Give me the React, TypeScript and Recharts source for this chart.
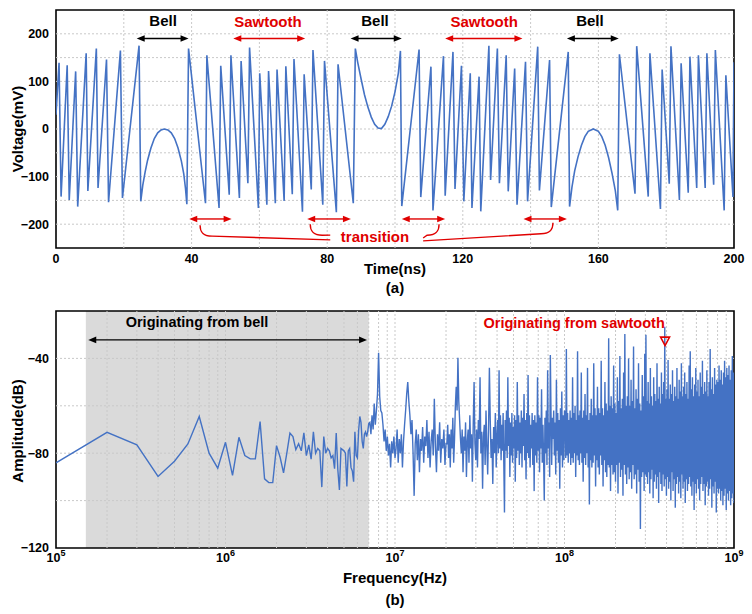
import React from 'react';
import {
  LineChart,
  Line,
  XAxis,
  YAxis,
  ReferenceLine,
  ReferenceArea,
  ReferenceDot,
} from 'recharts';

const BLUE = '#4472C4';
const RED = '#E00000';
const GRID = '#c9c9c9';
const FONT = '"Liberation Sans", Arial, Helvetica, sans-serif';

// ---- (a) time domain, [ns, mV] ----
const sawRise1 = [[0, 30], [0.9, 139], [1.5, -142], [3.3, 134], [3.9, -149], [5.8, 121], [6.4, -163], [8.9, 159], [9.4, -130], [11.9, 169], [12.4, -124], [14.9, 146], [15.5, -154], [19.0, 165], [19.6, -145], [24.5, 175], [25.0, -152]];
const bell1 = [[25.6, -118], [26.3, -90], [27, -66], [28, -40], [29, -20], [30, -8], [31, -2], [31.9, 0], [33, -2], [34, -8], [35, -20], [36, -40], [37, -68], [37.7, -95], [38.2, -125], [38.6, -158]];
const sawFall1 = [[39.1, 169], [44.1, -156], [44.5, 155], [48.1, -166], [48.6, 133], [51.1, -138], [51.6, 155], [54.1, -145], [54.6, 143], [56.6, -114], [57.1, 171], [59.7, -166], [60.1, 117], [62.2, -159], [62.7, 122], [64.7, -156], [65.2, 125], [67.3, -151], [67.8, 132], [69.7, -137], [70.2, 147], [72.7, -174], [73.2, 115], [75.3, -127], [75.8, 166], [78.7, -159], [79.2, 143], [82.7, -175], [83.2, 136], [87.7, -156], [88.3, 169]];
const bellDip = [[89, 140], [90, 105], [91, 72], [92, 46], [93, 25], [94, 10], [95, 2], [96, 1], [97, 10], [98, 26], [99, 48], [100, 78], [101, 118], [101.6, 164]];
const sawRise2 = [[102.0, -162], [107.1, 167], [107.6, -143], [110.6, 131], [111.2, -171], [114.3, 153], [114.8, -140], [117.1, 162], [117.7, -126], [119.6, 133], [120.3, -152], [122.2, 117], [122.7, -166], [124.8, 110], [125.3, -173], [127.7, 175], [128.2, -107], [130.2, 169], [130.8, -114], [132.8, 155], [133.4, -131], [135.3, 127], [136.0, -159], [138.5, 141], [139.1, -152], [142.1, 173], [142.6, -129], [145.6, 145], [146.1, -164], [151.1, 162]];
const bell2 = [[151.5, -163], [152.2, -122], [153, -88], [154, -58], [155, -34], [156, -16], [157, -5], [158.5, 0], [160, -5], [161, -16], [162, -34], [163, -60], [164, -92], [165, -130], [165.7, -171]];
const sawFall2 = [[166.2, 157], [170.8, -136], [171.3, 174], [174.7, -142], [175.2, 159], [178.3, -168], [178.8, 125], [180.9, -115], [181.4, 174], [183.9, -149], [184.4, 138], [186.5, -134], [187.0, 152], [189.0, -124], [189.5, 155], [191.5, -124], [192.0, 159], [194.0, -117], [194.5, 166], [197.1, -171], [197.6, 113], [199.7, -143], [200, 140]];

const timeTicks = [0, 40, 80, 120, 160, 200];
const voltTicks = [-200, -100, 0, 100, 200];
const timeGrid = [20, 40, 60, 80, 100, 120, 140, 160, 180];
const voltGrid = [-200, -150, -100, -50, 0, 50, 100, 150, 200];

// phase labels [text, ns, mV, colour] and spans [from ns, to ns, colour]
const phaseLabels = [['Bell', 31.6, 227, 'k'], ['Sawtooth', 62.5, 225, 'r'], ['Bell', 94.1, 227, 'k'], ['Sawtooth', 126.3, 225, 'r'], ['Bell', 157.5, 227, 'k']];
const phaseSpans = [[23.8, 39.1, 'k'], [52.3, 73.5, 'r'], [86.9, 102.0, 'k'], [114.8, 137.6, 'r'], [150.7, 166.0, 'k']];
const transitionSpans = [[39.3, 51.8], [74.1, 87.0], [102.0, 114.8], [137.9, 150.7]];
const transitionHooks = [[42.5, -202, 80.9, -233], [75.0, -200, 80.9, -223], [113.0, -200, 108.3, -229], [146.6, -197, 108.3, -235]];

// ---- (b) spectrum ----
// 100 kHz bins, 0.1 .. 7 MHz (shaded "bell" region)
const bellBandDb = [-84.1, -71.2, -76.5, -89.8, -83.4, -76.1, -64.5, -80, -86.3, -75.4, -89.4, -73.3, -81, -82.4, -82.4, -66.7, -90.8, -92.4, -92.4, -76.8, -81.7, -88.3, -80, -71.5, -73, -78.5, -76, -79, -71.4, -81, -76.5, -82.5, -71, -80, -78, -79, -94.3, -73, -80, -78, -79, -82, -81, -86.5, -71.5, -87, -95.5, -78, -78.5, -79, -80, -94, -79, -78, -86, -87.5, -92, -71, -81, -82, -70.5, -64.5, -67, -75, -78, -72, -71, -73, -71, -67.5];

// denser part, one list per span between consecutive edges
const segEdgesHz = [7e6, 1e7, 2e7, 4e7, 1e8, 3e8, 1e9];
const dbA = [-67, -72, -64, -70, -59, -68, -62, -55, -37.6, -56, -62, -63, -68, -75, -70, -79, -73, -81, -76, -86, -75, -80, -73, -82];
const dbB = [-78, -70, -84, -74, -80, -72, -86, -75, -68, -62, -55, -50, -58, -64, -72, -66, -80, -98, -76, -70, -83, -72, -88, -74, -79, -69, -84, -73, -77, -66, -82, -71, -86, -75, -70, -81, -57, -77, -88, -72, -79, -67, -84, -74, -78, -70, -85, -76];
const dbC = [-76, -68, -82, -72, -86, -70, -78, -65, -84, -74, -60, -52, -62, -39.7, -58, -66, -74, -80, -70, -88, -73, -79, -67, -90, -75, -70, -84, -64, -78, -72, -92, -68, -50, -76, -83, -70, -86, -66, -74, -48, -80, -71, -95, -73, -68, -85, -62, -77, -89, -70, -44, -66, -82, -74, -93, -69, -80, -63, -86, -72];
const dbD = [
  -66, -80, -45, -78, -64, -83, -68, -79, -63, -84,
  -105, -66, -79, -62, -82, -48, -77, -65, -90, -67,
  -81, -63, -84, -69, -78, -64, -92, -66, -82, -50,
  -79, -64, -85, -67, -80, -62, -86, -65, -77, -55,
  -83, -66, -91, -63, -80, -47, -82, -64, -86, -68,
  -78, -63, -85, -66, -96, -64, -81, -67, -84, -48,
  -79, -64, -88, -65, -78, -53, -84, -68, -82, -100,
  -65, -80, -62, -85, -45, -78, -67, -90, -38.6, -63,
  -85, -65, -74, -62, -81, -67, -89, -49, -79, -63,
  -84, -66, -95, -61, -81, -54, -86, -64, -83, -62,
];
const dbE = [
  -64, -82, -36, -81, -63, -84, -66, -80, -62, -85,
  -65, -82, -48, -84, -63, -80, -60, -90, -66, -81,
  -37, -83, -64, -85, -62, -80, -46, -84, -65, -92,
  -62, -82, -55, -85, -64, -80, -44, -86, -66, -101.6,
  -63, -83, -57, -86, -64, -84, -42, -81, -61, -94,
  -64, -83, -52, -86, -61, -89, -63, -81, -41, -85,
  -61, -94, -64, -83, -50, -88, -59, -90, -62, -85,
  -31.5, -86, -60, -96, -56, -85, -61, -89, -43, -88,
  -59, -92, -63, -85, -48, -97, -58, -84, -39, -90,
  -61, -87, -57, -98, -46, -85, -29.7, -89, -60, -93,
  -56, -86, -40, -91, -60, -88, -49, -95, -58, -85,
  -35, -91, -61, -89, -53, -97, -57, -87, -42, -92,
  -59, -112, -62, -90, -47, -88, -56, -96, -38, -89,
];
const dbF = [
  -30, -90, -58, -93, -50, -88, -59, -97, -44, -91,
  -56, -87, -60, -99, -48, -92, -55, -89, -58, -95,
  -42, -90, -57, -101, -52, -88, -59, -93, -46, -96,
  -55, -89, -50, -94, -26.6, -91, -57, -98, -53, -90,
  -40.7, -95, -57, -92, -51, -100, -55, -88, -45, -96,
  -58, -91, -52, -103, -56, -93, -44, -90, -57, -97,
  -49, -92, -54, -99, -42, -89, -56, -95, -52, -92,
  -46, -101, -55, -91, -50, -96, -57, -93, -43, -90,
  -37, -94, -53, -98, -48, -92, -56, -104, -51, -93,
  -44, -97, -54, -91, -49, -95, -56, -100, -46, -93,
  -52, -90, -41, -96, -55, -93, -50, -102, -54, -94,
  -45, -92, -56, -98, -50, -95, -36, -91, -53, -103,
  -48, -94, -55, -97, -44, -92, -51, -105, -49, -95,
  -50, -97, -43, -95, -49, -100, -45, -96, -51, -102,
  -46, -98, -41, -95, -48, -104, -44, -97, -47, -100,
  -43, -96, -49, -102, -45, -99, -39, -97, -46, -101,
];
const dbSegments = [dbA, dbB, dbC, dbD, dbE, dbF];

const freqTicks = [1e5, 1e6, 1e7, 1e8, 1e9];
const ampTicks = [-120, -80, -40];
const ampGrid = [-100, -80, -60, -40];
const freqGrid = [1e5, 1e6, 1e7, 1e8].flatMap((d) => [2, 3, 4, 5, 6, 7, 8, 9, 10].map((m) => d * m)).filter((f) => f < 1e9);

const bellShade = [1.5e5, 7e6];
const bellArrow = [1.55e5, 6.84e6, -32.2];
const specLabels = [['Originating from bell', 6.79e5, -24.6, 'k'], ['Originating from sawtooth', 1.14e8, -25, 'r']];
const markerAt = [3.92e8, -32.7];

const wave = [...sawRise1, ...bell1, ...sawFall1, ...bellDip, ...sawRise2, ...bell2, ...sawFall2].map(([t, v]) => ({ t, v }));

const spectrum = [
  ...bellBandDb.map((db, i) => ({ f: (i + 1) * 1e5, db })),
  ...dbSegments.flatMap((seg, k) => {
    const lo = segEdgesHz[k];
    const hi = segEdgesHz[k + 1];
    return seg.map((db, i) => ({ f: lo * Math.pow(hi / lo, (i + 1) / seg.length), db }));
  }),
];

const colourOf = (c: string) => (c === 'r' ? RED : '#000');
const minus = (v: number) => (v < 0 ? '\u2212' + Math.abs(v) : String(v));

const tickStyle = { fill: '#000', fontSize: 12.5, fontWeight: 'bold' as const };

function arrowShape(color: string) {
  return (p: any) => {
    const { x1, y1, x2, y2 } = p;
    const a = Math.min(x1, x2);
    const b = Math.max(x1, x2);
    const h = 8;
    const w = 3.3;
    return (
      <g>
        <line x1={a + h - 1} y1={y1} x2={b - h + 1} y2={y2} stroke={color} strokeWidth={1.4} />
        <polygon points={`${a},${y1} ${a + h},${y1 - w} ${a + h},${y1 + w}`} fill={color} />
        <polygon points={`${b},${y2} ${b - h},${y2 - w} ${b - h},${y2 + w}`} fill={color} />
      </g>
    );
  };
}

const hookShape = (p: any) => {
  const { x1, y1, x2, y2 } = p;
  const dir = x2 > x1 ? 1 : -1;
  const yb = y1 + 11;
  return (
    <path
      d={`M${x1},${y1} C${x1},${yb - 5} ${x1 + dir * 2},${yb} ${x1 + dir * 12},${yb} L${x2},${y2}`}
      fill="none"
      stroke={RED}
      strokeWidth={1.4}
    />
  );
};

function textShape(label: string, color: string, size = 15) {
  return (p: any) => (
    <text
      x={p.cx}
      y={p.cy}
      textAnchor="middle"
      dominantBaseline="central"
      fill={color}
      fontSize={size}
      fontWeight="bold"
      fontFamily={FONT}
    >
      {label}
    </text>
  );
}

const triShape = (p: any) => (
  <polygon
    points={`${p.cx - 4.5},${p.cy - 4} ${p.cx + 4.5},${p.cy - 4} ${p.cx},${p.cy + 4.5}`}
    fill="none"
    stroke={RED}
    strokeWidth={1.6}
  />
);

const PowTick = (p: any) => {
  const exp = Math.round(Math.log10(p.payload.value));
  return (
    <text x={p.x} y={p.y} textAnchor="middle" fill="#000" fontWeight="bold" fontFamily={FONT}>
      <tspan fontSize={12.5} dy={14}>10</tspan>
      <tspan fontSize={9} dy={-6}>{exp}</tspan>
    </text>
  );
};

const title = (text: string, x: number, y: number, rotate = false) => (
  <div
    style={{
      position: 'absolute',
      left: x,
      top: y,
      transform: `translate(-50%, -50%)${rotate ? ' rotate(-90deg)' : ''}`,
      whiteSpace: 'nowrap',
      fontSize: 15,
      fontWeight: 'bold',
      lineHeight: 1,
      color: '#000',
    }}
  >
    {text}
  </div>
);

export default function App() {
  return (
    <div
      style={{
        position: 'absolute',
        left: 0,
        top: 0,
        width: 752,
        height: 614,
        background: '#fff',
        fontFamily: FONT,
        overflow: 'hidden',
      }}
    >
      <div style={{ position: 'absolute', left: 0, top: 0 }}>
        <LineChart width={752} height={300} data={wave} margin={{ top: 10, right: 18, bottom: 22, left: 6 }}>
          {timeGrid.map((t) => (
            <ReferenceLine key={'tg' + t} x={t} stroke={GRID} strokeDasharray="2 2" />
          ))}
          {voltGrid.map((v) => (
            <ReferenceLine key={'vg' + v} y={v} stroke={GRID} strokeDasharray="2 2" />
          ))}
          <XAxis
            type="number"
            dataKey="t"
            domain={[0, 200]}
            ticks={timeTicks}
            interval={0}
            axisLine={false}
            tickSize={0}
            tickMargin={6}
            height={30}
            tick={tickStyle}
            allowDataOverflow
          />
          <YAxis
            type="number"
            domain={[-250, 250]}
            ticks={voltTicks}
            interval={0}
            tickFormatter={minus}
            axisLine={false}
            tickSize={0}
            tickMargin={7}
            width={50}
            tick={tickStyle}
            allowDataOverflow
          />
          <YAxis
            yAxisId="r"
            orientation="right"
            mirror
            type="number"
            domain={[-250, 250]}
            ticks={voltTicks}
            interval={0}
            axisLine={false}
            tick={false}
            tickSize={5}
            tickLine={{ stroke: '#000', strokeWidth: 1.2 }}
            width={0}
          />
          {phaseSpans.map(([a, b, c], i) => (
            <ReferenceLine
              key={'ps' + i}
              segment={[{ x: a as number, y: 190 }, { x: b as number, y: 190 }]}
              shape={arrowShape(colourOf(c as string))}
            />
          ))}
          {transitionSpans.map(([a, b], i) => (
            <ReferenceLine key={'ts' + i} segment={[{ x: a, y: -189 }, { x: b, y: -189 }]} shape={arrowShape(RED)} />
          ))}
          {transitionHooks.map(([a, va, b, vb], i) => (
            <ReferenceLine key={'th' + i} segment={[{ x: a, y: va }, { x: b, y: vb }]} shape={hookShape} />
          ))}
          {phaseLabels.map(([txt, t, v, c], i) => (
            <ReferenceDot
              key={'pl' + i}
              x={t as number}
              y={v as number}
              r={0}
              shape={textShape(txt as string, colourOf(c as string))}
            />
          ))}
          <ReferenceDot x={94.1} y={-225} r={0} shape={textShape('transition', RED, 15)} />
          <Line
            type="linear"
            dataKey="v"
            stroke={BLUE}
            strokeWidth={1.6}
            dot={false}
            isAnimationActive={false}
          />
          <ReferenceArea x1={0} x2={200} y1={-250} y2={250} fill="none" stroke="#000" strokeWidth={1.6} />
        </LineChart>
      </div>

      <div style={{ position: 'absolute', left: 0, top: 300 }}>
        <LineChart width={752} height={314} data={spectrum} margin={{ top: 11, right: 18, bottom: 36, left: 6 }}>
          <ReferenceArea x1={bellShade[0]} x2={bellShade[1]} y1={-120} y2={-20} fill="#dadada" fillOpacity={1} stroke="none" />
          {freqGrid.map((f) => (
            <ReferenceLine key={'fg' + f} x={f} stroke={GRID} strokeDasharray="2 2" />
          ))}
          {ampGrid.map((v) => (
            <ReferenceLine key={'ag' + v} y={v} stroke={GRID} strokeDasharray="2 2" />
          ))}
          <XAxis
            type="number"
            dataKey="f"
            scale="log"
            domain={[1e5, 1e9]}
            ticks={freqTicks}
            interval={0}
            axisLine={false}
            tickSize={0}
            tickMargin={0}
            height={30}
            tick={<PowTick />}
            allowDataOverflow
          />
          <XAxis
            xAxisId="in"
            type="number"
            scale="log"
            domain={[1e5, 1e9]}
            ticks={freqTicks}
            interval={0}
            mirror
            axisLine={false}
            tick={false}
            tickSize={5}
            tickLine={{ stroke: '#000', strokeWidth: 1.2 }}
            height={0}
          />
          <YAxis
            type="number"
            domain={[-120, -20]}
            ticks={ampTicks}
            interval={0}
            tickFormatter={minus}
            axisLine={false}
            tickSize={0}
            tickMargin={7}
            width={50}
            tick={tickStyle}
            allowDataOverflow
          />
          <YAxis
            yAxisId="r"
            orientation="right"
            mirror
            type="number"
            domain={[-120, -20]}
            ticks={ampTicks}
            interval={0}
            axisLine={false}
            tick={false}
            tickSize={5}
            tickLine={{ stroke: '#000', strokeWidth: 1.2 }}
            width={0}
          />
          <ReferenceLine
            segment={[{ x: bellArrow[0], y: bellArrow[2] }, { x: bellArrow[1], y: bellArrow[2] }]}
            shape={arrowShape('#000')}
          />
          {specLabels.map(([txt, f, v, c], i) => (
            <ReferenceDot
              key={'sl' + i}
              x={f as number}
              y={v as number}
              r={0}
              shape={textShape(txt as string, colourOf(c as string), 14.5)}
            />
          ))}
          <Line
            type="linear"
            dataKey="db"
            stroke={BLUE}
            strokeWidth={1.4}
            dot={false}
            isAnimationActive={false}
          />
          <ReferenceDot x={markerAt[0]} y={markerAt[1]} r={0} shape={triShape} />
          <ReferenceArea x1={1e5} x2={1e9} y1={-120} y2={-20} fill="none" stroke="#000" strokeWidth={1.6} />
        </LineChart>
      </div>

      {title('Voltage(mV)', 17, 129, true)}
      {title('Time(ns)', 395, 268)}
      {title('(a)', 395, 287)}
      {title('Amplitude(dB)', 17, 431, true)}
      {title('Frequency(Hz)', 395, 577)}
      {title('(b)', 395, 599)}
    </div>
  );
}
